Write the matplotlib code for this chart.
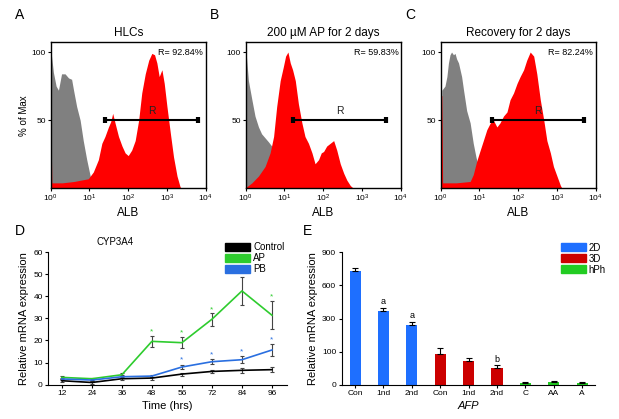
import matplotlib
matplotlib.use("Agg")
import matplotlib.pyplot as plt
from matplotlib.patches import Patch
import numpy as np

plt.rcParams['font.family'] = ['Liberation Sans', 'DejaVu Sans']

RED = '#ff0000'
GRAY = '#808080'

# ---- flow histograms (x in log10 units, y in % of max) ----
a_gray_x = [0, 0.01, 0.07, 0.14, 0.2, 0.28, 0.37, 0.46, 0.54, 0.59, 0.67, 0.76, 0.84, 0.93, 1.02, 1.06, 1.1]
a_gray_y = [0, 100, 85, 75, 72, 84, 84, 81, 80, 72, 60, 50, 35, 21, 9, 4, 0]
a_red_x = [0, 0.005, 0.02, 0.03, 0.3, 0.6, 0.97, 1.1, 1.23, 1.32, 1.4, 1.49, 1.55, 1.6, 1.66, 1.75, 1.84,
           1.92, 2.0, 2.09, 2.18, 2.27, 2.35, 2.44, 2.53, 2.61, 2.68, 2.74, 2.8, 2.87, 2.93, 3.0, 3.09,
           3.17, 3.26, 3.34, 3.38]
a_red_y = [0, 21, 21, 4, 4, 5, 7, 12, 21, 33, 38, 45, 49, 55, 48, 38, 31,
           26, 24, 28, 35, 50, 70, 84, 94, 99, 98, 92, 82, 87, 77, 60, 40,
           23, 9, 1, 0]

b_gray_x = [0, 0.01, 0.07, 0.16, 0.24, 0.33, 0.41, 0.5, 0.59, 0.67, 0.72, 0.8, 0.9, 1.0]
b_gray_y = [0, 100, 79, 65, 53, 45, 40, 37, 34, 31, 28, 20, 10, 0]
b_red_x = [0, 0.02, 0.16, 0.33, 0.5, 0.63, 0.72, 0.8, 0.89, 0.97, 1.03, 1.09, 1.15, 1.21, 1.28, 1.36,
           1.45, 1.53, 1.62, 1.71, 1.79, 1.88, 1.95, 2.01, 2.09, 2.18, 2.27, 2.35, 2.44, 2.53, 2.61,
           2.7, 2.78]
b_red_y = [0, 1, 4, 9, 16, 26, 38, 60, 79, 89, 97, 100, 92, 87, 79, 62,
           48, 38, 33, 26, 18, 21, 26, 27, 31, 33, 35, 28, 18, 11, 6,
           2, 0]

c_gray_x = [0, 0.03, 0.11, 0.16, 0.2, 0.24, 0.28, 0.33, 0.37, 0.41, 0.46, 0.5, 0.54, 0.59, 0.67,
            0.76, 0.84, 0.91, 0.97, 1.05, 1.12]
c_gray_y = [0, 72, 75, 82, 92, 98, 100, 98, 99, 95, 92, 87, 82, 72, 57,
            48, 33, 23, 16, 6, 0]
c_red_x = [0, 0.005, 0.03, 0.05, 0.4, 0.76, 0.84, 0.93, 1.02, 1.1, 1.19, 1.28, 1.36, 1.45, 1.53,
           1.62, 1.71, 1.79, 1.88, 1.97, 2.05, 2.14, 2.22, 2.31, 2.4, 2.48, 2.57, 2.66, 2.74,
           2.83, 2.91, 3.0, 3.09, 3.13]
c_red_y = [0, 68, 68, 4, 4, 5, 10, 20, 28, 35, 43, 48, 50, 45, 48,
           53, 56, 65, 70, 77, 82, 87, 94, 100, 97, 84, 65, 50, 35,
           26, 16, 9, 2, 0]

flow_titles = ['HLCs', '200 µM AP for 2 days', 'Recovery for 2 days']
flow_r = ['R= 92.84%', 'R= 59.83%', 'R= 82.24%']
gate_lo = [1.41, 1.23, 1.32]
gate_hi = [3.79, 3.63, 3.71]

# ---- CYP3A4 time course ----
hours = ['12', '24', '36', '48', '56', '72', '84', '96']
ctrl = [1.8, 1.0, 2.7, 3.0, 4.8, 6.0, 6.5, 6.8]
ctrl_err = [0.6, 0.6, 0.8, 0.7, 0.7, 0.8, 1.0, 1.0]
ap = [3.3, 2.7, 4.5, 19.6, 19.0, 29.6, 42.4, 31.4]
ap_err = [0.5, 0.4, 0.6, 2.5, 2.6, 2.9, 6.3, 6.4]
pb = [2.6, 2.1, 3.6, 3.9, 8.0, 10.4, 11.3, 15.7]
pb_err = [0.5, 0.4, 0.6, 0.6, 1.0, 1.0, 1.5, 2.6]
ap_star = [None, None, None, 24.0, 23.4, 34.0, 50.7, 39.8]
pb_star = [None, None, None, None, 11.0, 13.3, 15.0, 20.2]

# ---- AFP bars ----
afp_labels = ['Con', '1nd', '2nd', 'Con', '1nd', '2nd', 'C', 'AA', 'A']
afp_vals = [729, 369, 258, 94, 73, 51, 4, 9, 5]
afp_err = [30, 27, 22, 25, 8, 8, 3, 3, 3]
afp_group = ['2D', '2D', '2D', '3D', '3D', '3D', 'hPh', 'hPh', 'hPh']
afp_marks = ['', 'a', 'a', '', '', 'b', '', '', '']
group_colors = {'2D': '#1e6fff', '3D': '#cc0000', 'hPh': '#22cc22'}
afp_ticks = [0, 100, 300, 600, 900]

fig = plt.figure(figsize=(6.19, 4.19), dpi=100)

W, H = 619.0, 419.0
def axes_px(l, t, r, b):
    return fig.add_axes([l / W, 1 - b / H, (r - l) / W, (b - t) / H])

flow_data = [(a_gray_x, a_gray_y, a_red_x, a_red_y),
             (b_gray_x, b_gray_y, b_red_x, b_red_y),
             (c_gray_x, c_gray_y, c_red_x, c_red_y)]
lefts = [50.7, 245.7, 440.7]
letters = ['A', 'B', 'C']
letter_x = [15, 210, 405]
for i, (gx, gy, rx, ry) in enumerate(flow_data):
    ax = axes_px(lefts[i], 42.5, lefts[i] + 155, 188.3)
    ax.set_xscale('log')
    ax.fill_between(10 ** np.array(gx), gy, color=GRAY, lw=0)
    ax.fill_between(10 ** np.array(rx), ry, color=RED, lw=0)
    ax.set_xlim(1, 1e4)
    ax.set_ylim(0, 107)
    ax.set_yticks([50, 100])
    ax.set_xticks([1, 10, 100, 1000, 10000])
    ax.minorticks_off()
    ax.tick_params(labelsize=6, length=2, width=0.8, pad=1.5)
    for s in ax.spines.values():
        s.set_linewidth(1.0)
    lo, hi = 10 ** gate_lo[i], 10 ** gate_hi[i]
    ax.plot([lo, hi], [50, 50], color='black', lw=1.5)
    ax.plot([lo, lo], [48, 52], color='black', lw=3, solid_capstyle='butt')
    ax.plot([hi, hi], [48, 52], color='black', lw=3, solid_capstyle='butt')
    ax.text(10 ** ((gate_lo[i] + gate_hi[i]) / 2), 53, 'R', ha='center', va='bottom',
            fontsize=7.5, color='#222222')
    ax.text(0.985, 0.965, flow_r[i], transform=ax.transAxes, ha='right', va='top', fontsize=6.5)
    ax.set_title(flow_titles[i], fontsize=8.5, pad=5)
    ax.set_xlabel('ALB', fontsize=8.5, labelpad=2)
    if i == 0:
        ax.set_ylabel('% of Max', fontsize=7, labelpad=2)
    fig.text(letter_x[i] / W, 1 - 15 / H, letters[i], fontsize=10, va='center')

# ---- D ----
ax = axes_px(48.3, 252, 287, 384.7)
x = np.arange(len(hours))
for y, e, c in [(ctrl, ctrl_err, 'black'), (ap, ap_err, '#2ecc2e'), (pb, pb_err, '#2a6fe0')]:
    ax.errorbar(x, y, yerr=e, color=c, ecolor='#444444', elinewidth=0.8, capsize=1.5,
                capthick=0.8, lw=1.2)
for xi, s in zip(x, ap_star):
    if s is not None:
        ax.text(xi, s, '*', color='#2ecc2e', ha='center', va='center', fontsize=6)
for xi, s in zip(x, pb_star):
    if s is not None:
        ax.text(xi, s, '*', color='#2a6fe0', ha='center', va='center', fontsize=6)
ax.set_xlim(-0.45, 7.5)
ax.set_ylim(0, 60)
ax.set_yticks(range(0, 61, 10))
ax.set_xticks(x, hours)
ax.tick_params(labelsize=6, length=2, width=0.8, pad=2)
for s in ['top', 'right']:
    ax.spines[s].set_visible(False)
ax.set_xlabel('Time (hrs)', fontsize=8, labelpad=3)
ax.set_ylabel('Relative mRNA expression', fontsize=8, labelpad=3)
ax.text(0.28, 1.04, 'CYP3A4', transform=ax.transAxes, ha='center', va='bottom', fontsize=7)
leg = ax.legend(handles=[Patch(color='black', label='Control'), Patch(color='#2ecc2e', label='AP'),
                         Patch(color='#2a6fe0', label='PB')],
                loc='upper left', bbox_to_anchor=(0.72, 1.11), frameon=False, fontsize=7,
                handlelength=2.6, handleheight=0.9, labelspacing=0.1, handletextpad=0.3,
                borderpad=0)

fig.text(15 / W, 1 - 231 / H, 'D', fontsize=10, va='center')

# ---- E ----
ax = axes_px(341.7, 252.3, 595, 384.7)
pos = [0, 1, 2, 3, 4]
fwd = lambda v: np.interp(v, afp_ticks, pos)
inv = lambda v: np.interp(v, pos, afp_ticks)
ax.set_yscale('function', functions=(fwd, inv))
xb = np.arange(len(afp_labels))
cols = [group_colors[g] for g in afp_group]
ax.bar(xb, afp_vals, width=0.39, color=cols, zorder=2)
ax.errorbar(xb, afp_vals, yerr=[np.zeros(len(afp_vals)), afp_err], fmt='none', ecolor='black',
            elinewidth=0.8, capsize=2, capthick=0.8, zorder=3)
for xi, v, e, m in zip(xb, afp_vals, afp_err, afp_marks):
    if m:
        ax.text(xi, inv(fwd(v + e) + 0.05), m, ha='center', va='bottom', fontsize=6.5)
ax.set_xlim(-0.47, 8.45)
ax.set_ylim(0, 900)
ax.set_yticks(afp_ticks)
ax.set_yticklabels([str(t) for t in afp_ticks])
ax.minorticks_off()
ax.set_xticks(xb, afp_labels)
ax.tick_params(labelsize=6, length=2, width=0.8, pad=2)
for s in ['top', 'right']:
    ax.spines[s].set_visible(False)
ax.set_xlabel('AFP', fontsize=8, style='italic', labelpad=3)
ax.set_ylabel('Relative mRNA expression', fontsize=8, labelpad=3)
ax.legend(handles=[Patch(color=group_colors[g], label=g) for g in ['2D', '3D', 'hPh']],
          loc='upper left', bbox_to_anchor=(0.845, 1.11), frameon=False, fontsize=7,
          handlelength=2.6, handleheight=0.9, labelspacing=0.1, handletextpad=0.3, borderpad=0)
fig.text(303 / W, 1 - 231 / H, 'E', fontsize=10, va='center')

fig.savefig('out.png', dpi=100)
